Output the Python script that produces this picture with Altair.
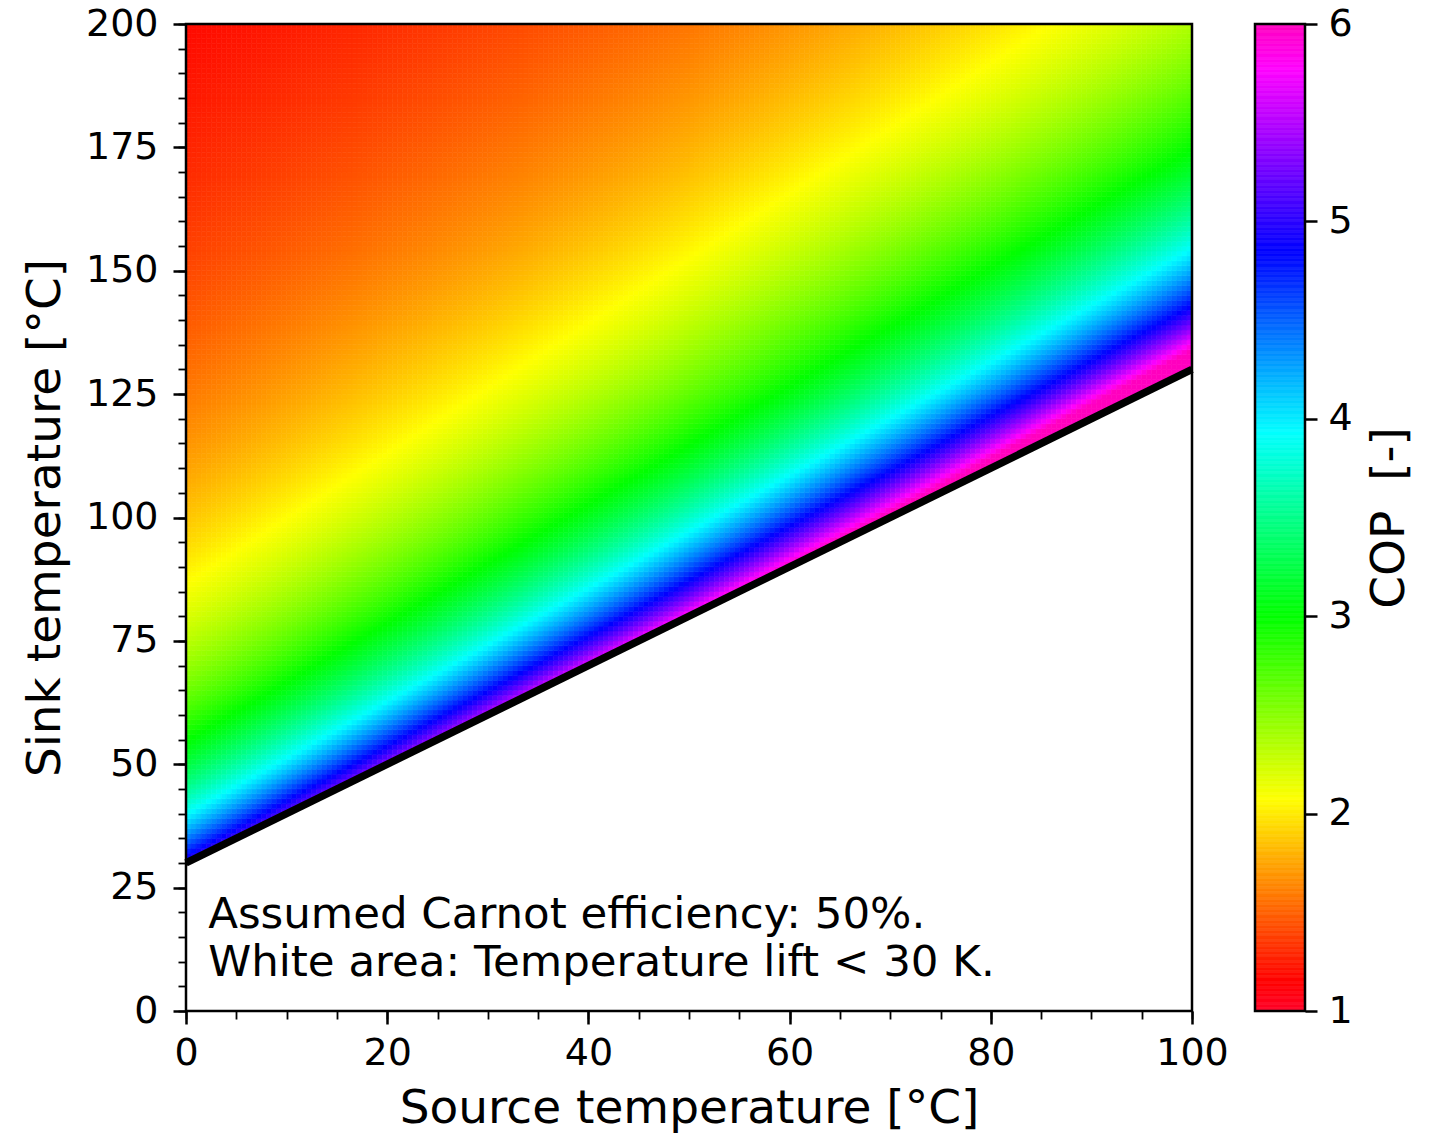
import altair as alt
import numpy as np
import pandas as pd

alt.data_transformers.disable_max_rows()

# ---- parameters / values -------------------------------------------------
CARNOT_EFFICIENCY = 0.5
MIN_LIFT = 30.0
KELVIN = 273.15

source_step = 0.5
sink_step = 1.0
source_edges = np.arange(0.0, 100.0 + source_step / 2, source_step)
sink_edges = np.arange(0.0, 200.0 + sink_step / 2, sink_step)

x_ticks = [0, 20, 40, 60, 80, 100]
x_minor = list(range(0, 101, 5))
y_ticks = [0, 25, 50, 75, 100, 125, 150, 175, 200]
y_minor = list(range(0, 201, 5))
cop_ticks = [1, 2, 3, 4, 5, 6]

# gist_rainbow colormap stops
cmap_positions = [0.0, 0.03, 0.215, 0.4, 0.586, 0.77, 0.954, 1.0]
cmap_colors = ["#ff0029", "#ff0000", "#ffff00", "#00ff00", "#00ffff",
               "#0000ff", "#ff00ff", "#ff00bf"]
cop_min, cop_max = 1.0, 6.0

line_source = [0.0, 100.0]
line_sink = [s + MIN_LIFT for s in line_source]

annotation_lines = ["Assumed Carnot efficiency: 50%.",
                    "White area: Temperature lift < 30 K."]
annotation_x = [2.2, 2.2]
annotation_y = [16.8, 7.1]

# ---- build tables ----------------------------------------------------------
S0, T0 = np.meshgrid(source_edges[:-1], sink_edges[:-1])
S0 = S0.ravel(); T0 = T0.ravel()
S1 = S0 + source_step; T1 = T0 + sink_step
SC = (S0 + S1) / 2; TC = (T0 + T1) / 2
keep = (T1 - S0) > MIN_LIFT
cells = pd.DataFrame({
    "s0": S0[keep], "s1": S1[keep], "t0": T0[keep], "t1": T1[keep],
})
lift = TC[keep] - SC[keep]
cells["cop"] = np.round(CARNOT_EFFICIENCY * (TC[keep] + KELVIN) / lift, 4)

line_df = pd.DataFrame({"source": line_source, "sink": line_sink})
text_df = pd.DataFrame({"tx": annotation_x, "ty": annotation_y, "label": annotation_lines})

cb_edges = np.linspace(cop_min, cop_max, 800)
cb_df = pd.DataFrame({"lo": cb_edges[:-1], "hi": cb_edges[1:]})
cb_df["mid"] = (cb_df["lo"] + cb_df["hi"]) / 2

one = pd.DataFrame({"a": [0]})

# ---- scales / axes ---------------------------------------------------------
cscale = alt.Scale(domain=[cop_min + (cop_max - cop_min) * p for p in cmap_positions],
                   range=cmap_colors, clamp=True, interpolate="rgb")

W, H = 1006, 987
CBW = 50
FONT = "DejaVu Sans"
LABEL_FS = 38
TITLE_FS = 47

xscale = alt.Scale(domain=[0, 100], nice=False, zero=False)
yscale = alt.Scale(domain=[0, 200], nice=False, zero=False)

major_x = alt.Axis(values=x_ticks, title="Source temperature [°C]", orient="bottom",
                   labelFontSize=LABEL_FS, titleFontSize=TITLE_FS, tickSize=13,
                   tickWidth=2.5, tickColor="black", domain=False, grid=False,
                   labelPadding=10, titlePadding=13, labelColor="black",
                   titleColor="black", titleFontWeight="normal", labelFlush=False,
                   format="d")
major_y = alt.Axis(values=y_ticks, title="Sink temperature [°C]", orient="left",
                   labelFontSize=LABEL_FS, titleFontSize=TITLE_FS, tickSize=13,
                   tickWidth=2.5, tickColor="black", domain=False, grid=False,
                   labelPadding=15, titlePadding=16, labelColor="black",
                   titleColor="black", titleFontWeight="normal", labelFlush=False,
                   format="d")
minor_x = alt.Axis(values=x_minor, title=None, orient="bottom", labels=False,
                   tickSize=8, tickWidth=1.8, tickColor="black", domain=False, grid=False)
minor_y = alt.Axis(values=y_minor, title=None, orient="left", labels=False,
                   tickSize=8, tickWidth=1.8, tickColor="black", domain=False, grid=False)

heat = alt.Chart(cells).mark_rect(strokeWidth=0.6).encode(
    x=alt.X("s0:Q", scale=xscale, axis=major_x),
    x2="s1",
    y=alt.Y("t0:Q", scale=yscale, axis=major_y),
    y2="t1",
    color=alt.Color("cop:Q", scale=cscale, legend=None),
    stroke=alt.Stroke("cop:Q", scale=cscale, legend=None),
)

mask = alt.Chart(line_df).mark_area(color="white").encode(
    x=alt.X("source:Q", scale=xscale, axis=None),
    y=alt.Y("sink:Q", scale=yscale, axis=None),
    y2=alt.datum(0),
)

line = alt.Chart(line_df).mark_line(color="black", strokeWidth=7.5).encode(
    x=alt.X("source:Q", scale=xscale, axis=minor_x),
    y=alt.Y("sink:Q", scale=yscale, axis=minor_y),
)

text = alt.Chart(text_df).mark_text(align="left", baseline="alphabetic", fontSize=43.5,
                                    font=FONT, color="black").encode(
    x=alt.X("tx:Q", scale=xscale, axis=None),
    y=alt.Y("ty:Q", scale=yscale, axis=None),
    text="label:N",
)

frame = alt.Chart(one).mark_rect(fillOpacity=0, stroke="black", strokeWidth=2.5).encode(
    x=alt.value(0), x2=alt.value(W), y=alt.value(0), y2=alt.value(H),
)

main = alt.layer(heat, mask, line, text, frame).resolve_axis(
    x="independent", y="independent"
).properties(width=W, height=H)

cb_rect = alt.Chart(cb_df).mark_rect(strokeWidth=0.6).encode(
    x=alt.value(0), x2=alt.value(CBW),
    y=alt.Y("lo:Q", scale=alt.Scale(domain=[cop_min, cop_max], nice=False, zero=False),
            axis=alt.Axis(values=cop_ticks, orient="right", title="COP\u00a0\u00a0[-]",
                          labelFontSize=LABEL_FS, titleFontSize=TITLE_FS, tickSize=12,
                          tickWidth=2.5, tickColor="black", domain=False, grid=False,
                          labelPadding=11, titlePadding=14, titleAngle=270,
                          titleBaseline="top",
                          labelColor="black", titleColor="black",
                          titleFontWeight="normal", labelFlush=False, format="d")),
    y2="hi",
    color=alt.Color("mid:Q", scale=cscale, legend=None),
    stroke=alt.Stroke("mid:Q", scale=cscale, legend=None),
)
cb_frame = alt.Chart(one).mark_rect(fillOpacity=0, stroke="black", strokeWidth=2.5).encode(
    x=alt.value(0), x2=alt.value(CBW), y=alt.value(0), y2=alt.value(H),
)
cbar = alt.layer(cb_rect, cb_frame).properties(width=CBW, height=H)

chart = alt.hconcat(main, cbar, spacing=63, bounds="flush").resolve_scale(
    color="independent", stroke="independent"
).configure(
    font=FONT, padding={"left": 13, "top": -3, "right": 5, "bottom": 5}
).configure_view(stroke=None).configure_axis(labelFont=FONT, titleFont=FONT)

chart.save("out.html", embed_options={"renderer": "svg", "actions": False})
